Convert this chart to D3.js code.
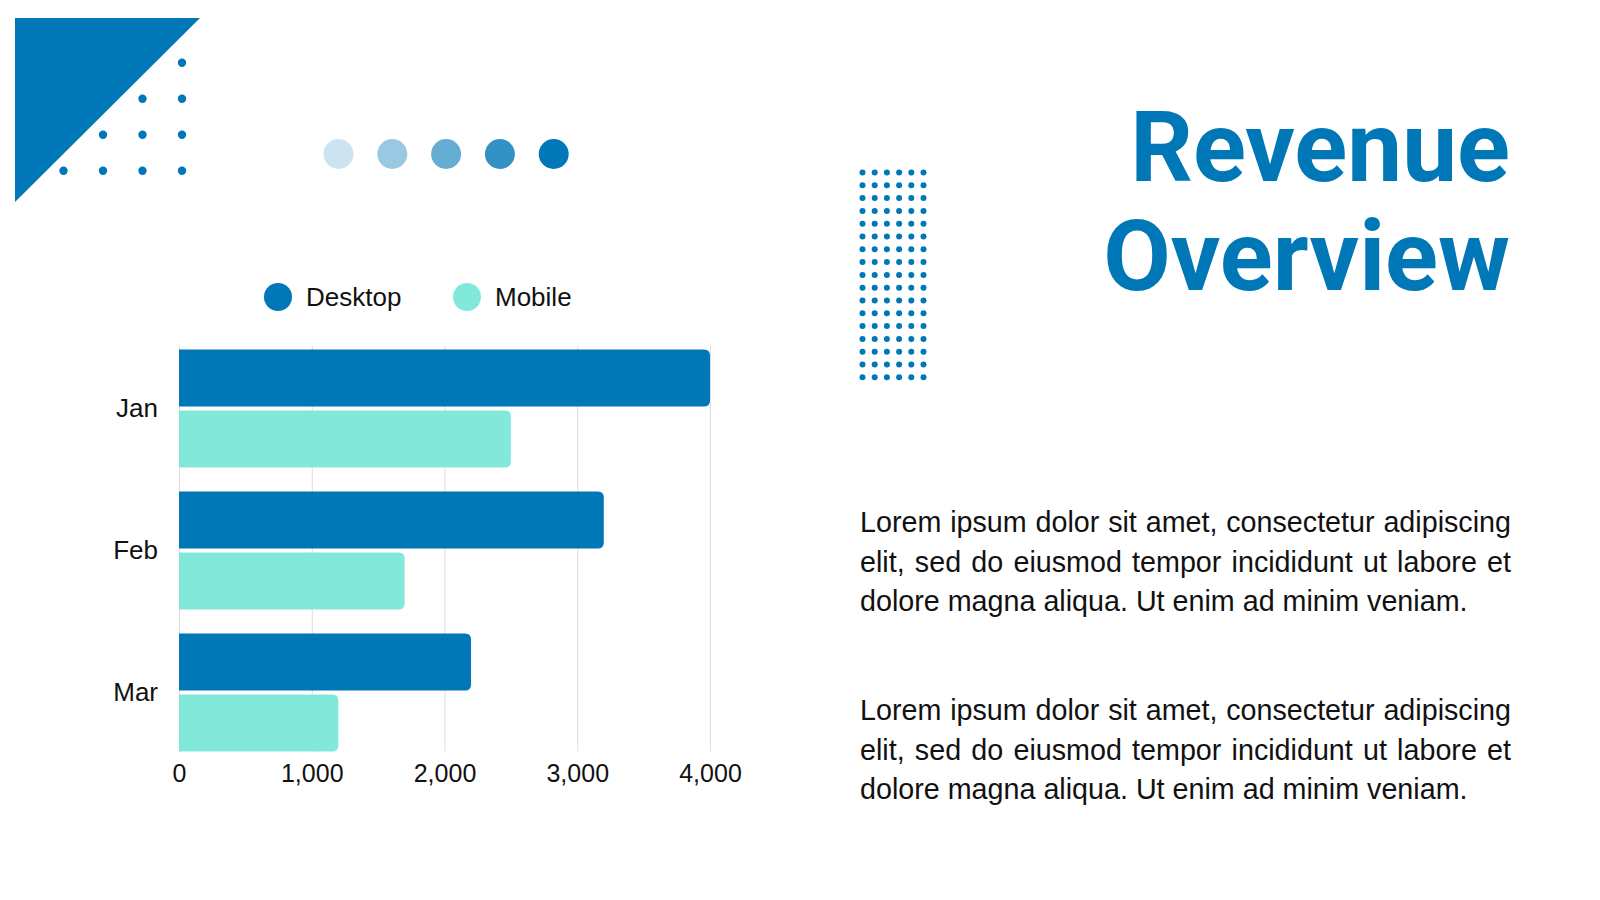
<!DOCTYPE html>
<html>
<head>
<meta charset="utf-8">
<script src="https://cdn.jsdelivr.net/npm/d3@7"></script>
<style>
  html, body { margin: 0; padding: 0; background: #ffffff; }
  svg { display: block; }
</style>
</head>
<body>
<script>
// chart data
var months = ["Jan", "Feb", "Mar"];
var seriesNames = ["Desktop", "Mobile"];
var desktopValues = [4000, 3200, 2200];
var mobileValues = [2500, 1700, 1200];
var xTicks = [0, 1000, 2000, 3000, 4000];

// slide texts
var titleLines = ["Revenue", "Overview"];
var paragraphs = [
	["Lorem ipsum dolor sit amet, consectetur adipiscing",
	 "elit, sed do eiusmod tempor incididunt ut labore et",
	 "dolore magna aliqua. Ut enim ad minim veniam."],
	["Lorem ipsum dolor sit amet, consectetur adipiscing",
	 "elit, sed do eiusmod tempor incididunt ut labore et",
	 "dolore magna aliqua. Ut enim ad minim veniam."]
];

// shades of the five decorative circles
var shadeOpacity = [0.2, 0.4, 0.6, 0.8, 1];

var blue = "#0077b6",
    mint = "#82e9da",
    gridColor = "#dddddd",
    sans = "'Liberation Sans', Arial, Helvetica, sans-serif";

var w = 1600,
    h = 900;

var svg = d3.select("body")
	.append("svg")
	.attr("width", w)
	.attr("height", h);

// ---- decorations ----

// corner triangle
svg.append("path")
	.attr("d", "M15,18L200,18L15,202Z")
	.attr("fill", blue);

// staircase of dots next to the triangle
var stairDots = [];
for (var r = 0; r < 4; r++) {
	for (var c = 3 - r; c < 4; c++) {
		stairDots.push([63.5 + c * 39.5, 62.7 + r * 36]);
	}
}
svg.append("g").selectAll("circle")
	.data(stairDots)
	.enter()
	.append("circle")
	.attr("cx", function(d) { return d[0]; })
	.attr("cy", function(d) { return d[1]; })
	.attr("r", 4.2)
	.attr("fill", blue);

// row of five shaded circles
svg.append("g").selectAll("circle")
	.data(shadeOpacity)
	.enter()
	.append("circle")
	.attr("cx", function(d, i) { return 338.5 + i * 53.8; })
	.attr("cy", 154)
	.attr("r", 15)
	.attr("fill", blue)
	.attr("fill-opacity", function(d) { return d; });

// dotted block in the middle
var gridDots = [];
for (var gr = 0; gr < 17; gr++) {
	for (var gc = 0; gc < 6; gc++) {
		gridDots.push([862.5 + gc * 12.2, 172.5 + gr * 12.8]);
	}
}
svg.append("g").selectAll("circle")
	.data(gridDots)
	.enter()
	.append("circle")
	.attr("cx", function(d) { return d[0]; })
	.attr("cy", function(d) { return d[1]; })
	.attr("r", 3)
	.attr("fill", blue);

// ---- title ----
svg.append("g").selectAll("text")
	.data(titleLines)
	.enter()
	.append("text")
	.attr("x", 1510)
	.attr("y", function(d, i) { return 181 + i * 109; })
	.attr("text-anchor", "end")
	.attr("font-family", "Roboto, 'Noto Sans', sans-serif")
	.attr("font-weight", 700)
	.attr("font-size", 98)
	.attr("fill", blue)
	.text(function(d) { return d; });

// ---- paragraphs (justified by hand) ----
var paraLeft = 860,
    paraRight = 1511,
    paraTop = [532, 720],
    lineGap = 39.5,
    paraSize = 28.7;

paragraphs.forEach(function(lines, p) {
	lines.forEach(function(line, li) {
		var t = svg.append("text")
			.attr("font-family", sans)
			.attr("font-size", paraSize)
			.attr("fill", "#111111")
			.attr("y", paraTop[p] + li * lineGap);
		var words = line.split(" ");
		var isLast = li === lines.length - 1;
		if (isLast) {
			t.attr("x", paraLeft).text(line);
			return;
		}
		var spans = words.map(function(word) {
			return t.append("tspan").text(word);
		});
		var widths = spans.map(function(s) { return s.node().getComputedTextLength(); });
		var gap = (paraRight - paraLeft - d3.sum(widths)) / (words.length - 1);
		var pos = paraLeft;
		spans.forEach(function(s, i) {
			s.attr("x", pos);
			pos += widths[i] + gap;
		});
	});
});

// ---- bar chart ----
var xScale = d3.scaleLinear()
	.domain([0, 4000])
	.range([179, 710]);

var chartTop = 349.5,
    chartBottom = 751.5;

var yScale = d3.scaleBand()
	.domain(months)
	.range([chartTop, chartBottom])
	.paddingInner(0.169)
	.paddingOuter(0);

var ySub = d3.scaleBand()
	.domain(seriesNames)
	.range([0, yScale.bandwidth()])
	.paddingInner(0.0656);

var colors = d3.scaleOrdinal()
	.domain(seriesNames)
	.range([blue, mint]);

// vertical grid lines
svg.append("g").selectAll("line")
	.data(xTicks)
	.enter()
	.append("line")
	.attr("x1", function(d) { return xScale(d) + 0.5; })
	.attr("x2", function(d) { return xScale(d) + 0.5; })
	.attr("y1", chartTop - 4)
	.attr("y2", chartBottom)
	.attr("stroke", gridColor)
	.attr("stroke-width", 1);

// bar with rounded right end
function barPath(x0, y, width, height, rad) {
	var x1 = x0 + width;
	return "M" + x0 + "," + y +
		"H" + (x1 - rad) +
		"Q" + x1 + "," + y + " " + x1 + "," + (y + rad) +
		"V" + (y + height - rad) +
		"Q" + x1 + "," + (y + height) + " " + (x1 - rad) + "," + (y + height) +
		"H" + x0 + "Z";
}

var barData = [];
months.forEach(function(m, i) {
	barData.push({month: m, series: "Desktop", value: desktopValues[i]});
	barData.push({month: m, series: "Mobile", value: mobileValues[i]});
});

svg.append("g").selectAll("path")
	.data(barData)
	.enter()
	.append("path")
	.attr("d", function(d) {
		return barPath(xScale(0), yScale(d.month) + ySub(d.series),
			xScale(d.value) - xScale(0), ySub.bandwidth(), 6);
	})
	.attr("fill", function(d) { return colors(d.series); });

// x axis labels
var xAxis = d3.axisBottom(xScale)
	.tickValues(xTicks)
	.tickSize(0)
	.tickPadding(13)
	.tickFormat(d3.format(","));

var gx = svg.append("g")
	.attr("transform", "translate(0," + chartBottom + ")")
	.call(xAxis);
gx.select(".domain").remove();
gx.selectAll("text")
	.attr("font-family", sans)
	.attr("font-size", 25)
	.attr("fill", "#111111");

// y axis labels
var yAxis = d3.axisLeft(yScale)
	.tickSize(0)
	.tickPadding(21);

var gy = svg.append("g")
	.attr("transform", "translate(" + xScale(0) + ",0)")
	.call(yAxis);
gy.select(".domain").remove();
gy.selectAll("text")
	.attr("font-family", sans)
	.attr("font-size", 26)
	.attr("fill", "#111111");

// legend
var legendX = [278, 467];
var legend = svg.append("g").selectAll("g")
	.data(seriesNames)
	.enter()
	.append("g")
	.attr("transform", function(d, i) { return "translate(" + legendX[i] + ",297)"; });

legend.append("circle")
	.attr("r", 14)
	.attr("fill", function(d) { return colors(d); });

legend.append("text")
	.attr("x", 28)
	.attr("dy", "0.35em")
	.attr("font-family", sans)
	.attr("font-size", 26)
	.attr("fill", "#111111")
	.text(function(d) { return d; });
</script>
</body>
</html>
